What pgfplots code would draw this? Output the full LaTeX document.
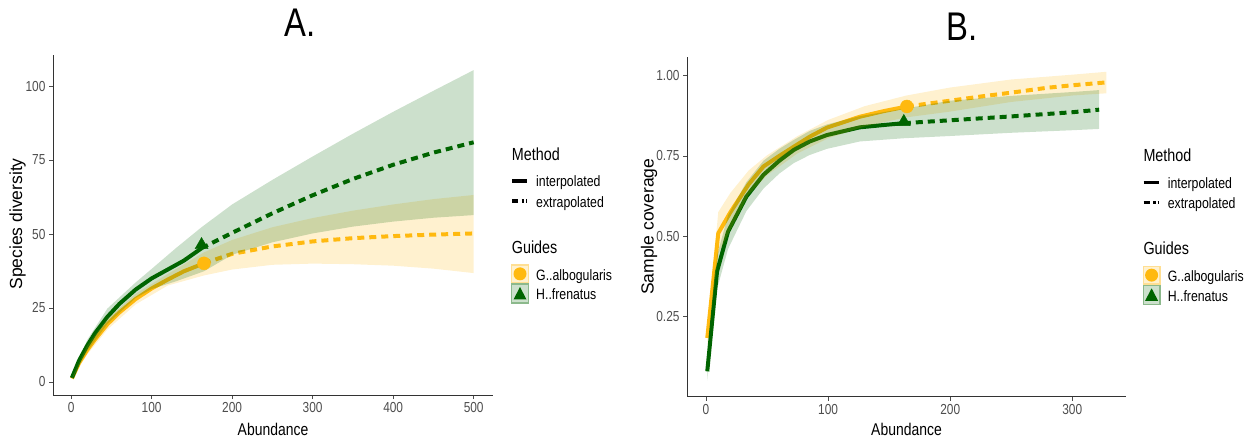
\documentclass[border=0pt]{standalone}
\usepackage{fontspec}
\setmainfont{Liberation Sans}[FakeStretch=0.82]
\newfontfamily\plainfont{Liberation Sans}
\usepackage{pgfplots}
\pgfplotsset{compat=1.18}

\definecolor{gold}{RGB}{255,185,15}
\definecolor{dgreen}{RGB}{0,100,0}
\definecolor{tickgrey}{RGB}{77,77,77}

\pgfplotsset{
  inext/.style={
    scale only axis, axis lines=left,
    axis line style={-, black!80, line width=0.9pt},
    tick align=outside, major tick length=4pt,
    tick style={tickgrey, line width=0.8pt},
    tick label style={font=\fontsize{14.5}{14.5}\selectfont, text=tickgrey},
    /pgf/number format/assume math mode=true,
  },
  band/.style={draw=none, fill=#1, fill opacity=0.2},
  interp/.style={#1, line width=4pt, line join=round},
  extrap/.style={#1, line width=4pt, dash pattern=on 7pt off 5pt},
}

\newcommand\legtext{\fontsize{15}{15}\selectfont}
\newcommand\legtitle{\fontsize{17.5}{17.5}\selectfont}
\newcommand\inextlegend[2]{%
  \begin{scope}[shift={(#1,#2)}]
    \node[anchor=base west, inner sep=0, font=\legtitle] at (0,278.3) {Method};
    \draw[black, line width=3.5pt] (0.3,258) -- (15.3,258);
    \node[anchor=base west, inner sep=0, font=\legtext] at (24.3,252) {interpolated};
    \draw[black, line width=3.5pt, dash pattern=on 6pt off 3.5pt on 2.5pt off 2pt on 1pt off 5pt] (0.3,238) -- (15.3,238);
    \node[anchor=base west, inner sep=0, font=\legtext] at (24.3,231.5) {extrapolated};
    \node[anchor=base west, inner sep=0, font=\legtitle] at (0,185.7) {Guides};
    \draw[gold!45, fill=gold!20, line width=1.2pt] (0,156.3) rectangle (16.6,174);
    \fill[gold] (8.3,165.15) circle (6.5);
    \node[anchor=base west, inner sep=0, font=\legtext] at (24.3,158.3) {G..albogularis};
    \draw[dgreen!45, fill=dgreen!20, line width=1.2pt] (0,136) rectangle (16.6,155);
    \fill[dgreen] (8.3,152) -- (14.8,139.5) -- (1.8,139.5) -- cycle;
    \node[anchor=base west, inner sep=0, font=\legtext] at (24.3,139) {H..frenatus};
  \end{scope}}

\begin{document}
\begin{tikzpicture}[x=1pt, y=1pt]
\useasboundingbox (0,0) rectangle (1249,439);

% ---------------- Panel A: species diversity
\begin{axis}[inext, at={(53pt,44pt)}, anchor=south west,
  width=440pt, height=340pt,
  xmin=-22.5, xmax=524, ymin=-4.4, ymax=110.5,
  xtick={0,100,...,500}, ytick={0,25,50,75,100}]
% reference points
\addplot[only marks, mark=*, mark size=6.5pt, gold, mark options={draw=none}] coordinates {(165,40.1)};
\addplot[only marks, mark=triangle*, mark size=7.5pt, dgreen, mark options={draw=none}] coordinates {(162,46.3)};
% lines
\addplot[interp=gold] coordinates {(1,1.2)(10,6.5)(20,10.8)(30,14.5)(45,19.5)(60,23.5)(80,28)(100,31.6)(120,34.6)(140,37.4)(165,40.1)};
\addplot[extrap=gold] coordinates {(165,40.1)(200,43.3)(250,45.8)(300,47.5)(350,48.6)(400,49.3)(450,49.8)(500,50.2)};
\addplot[interp=dgreen] coordinates {(1,1.4)(10,7.3)(20,12.3)(30,16.6)(45,22.0)(60,26.4)(80,31.2)(100,35.0)(120,38.0)(140,41.0)(162,45.2)};
\addplot[extrap=dgreen] coordinates {(162,45.2)(200,50.4)(250,57.0)(300,63.1)(350,68.6)(400,73.4)(450,77.5)(500,81.0)};
% confidence bands
\addplot[band=gold] coordinates {(1,1.3)(20,12.3)(45,21.3)(80,29.8)(120,36.5)(165,43.8)(200,48.0)(250,52.3)(300,55.4)(350,57.9)(400,60)(450,61.8)(500,63.2)
  (500,36.8)(450,38.3)(400,39.3)(350,39.8)(300,40.0)(250,39.6)(200,38.0)(165,36.0)(120,32.6)(80,26.2)(45,17.7)(20,9.3)(1,1.1)} -- cycle;
\addplot[band=dgreen] coordinates {(1,1.6)(20,14.2)(45,24.8)(80,33.6)(100,38.2)(130,45.2)(162,52.3)(200,60.0)(250,68.3)(300,76.2)(350,83.9)(400,91.3)(450,98.4)(500,105.4)
  (500,56.4)(450,55.5)(400,54.2)(350,52.5)(300,50.2)(250,47.2)(200,43.0)(165,37.4)(130,34.0)(100,31.4)(80,28.4)(45,19.6)(20,10.4)(1,1.2)} -- cycle;
\end{axis}

% ---------------- Panel B: sample coverage
\begin{axis}[inext, at={(687pt,42.3pt)}, anchor=south west,
  width=439pt, height=340pt,
  xmin=-15.6, xmax=344, ymin=0.0, ymax=1.059,
  xtick={0,100,200,300}, ytick={0.25,0.5,0.75,1},
  yticklabel style={/pgf/number format/.cd, fixed, fixed zerofill, precision=2}]
\addplot[only marks, mark=*, mark size=6.5pt, gold, mark options={draw=none}] coordinates {(164.5,0.904)};
\addplot[only marks, mark=triangle*, mark size=7.5pt, dgreen, mark options={draw=none}] coordinates {(162,0.856)};
\addplot[interp=gold] coordinates {(1,0.183)(10,0.509)(20,0.575)(35,0.662)(47,0.717)(60,0.75)(72,0.779)(85,0.81)(99,0.838)(126,0.872)(145,0.889)(164.5,0.904)};
\addplot[extrap=gold] coordinates {(164.5,0.904)(200,0.922)(225,0.935)(250,0.947)(279,0.962)(300,0.970)(328,0.979)};
\addplot[interp=dgreen] coordinates {(1,0.079)(9,0.39)(18,0.514)(33,0.623)(47,0.691)(60,0.735)(72,0.769)(85,0.795)(99,0.815)(126,0.839)(145,0.846)(162,0.852)};
\addplot[extrap=dgreen] coordinates {(162,0.852)(200,0.861)(250,0.873)(300,0.886)(322,0.894)};
\addplot[band=gold] coordinates {(1,0.205)(10,0.575)(20,0.635)(35,0.705)(50,0.752)(75,0.812)(100,0.862)(130,0.905)(164,0.938)(200,0.963)(250,0.988)(300,1.003)(328,1.012)
  (328,0.945)(300,0.938)(250,0.918)(200,0.888)(164,0.870)(130,0.842)(100,0.805)(75,0.758)(50,0.69)(35,0.63)(20,0.52)(10,0.445)(1,0.16)} -- cycle;
\addplot[band=dgreen] coordinates {(1,0.10)(9,0.44)(18,0.565)(33,0.668)(47,0.735)(60,0.772)(72,0.80)(85,0.828)(99,0.848)(126,0.874)(162,0.897)(200,0.922)(250,0.937)(300,0.949)(322,0.955)
  (322,0.834)(300,0.830)(250,0.822)(200,0.812)(162,0.805)(126,0.795)(99,0.772)(85,0.753)(72,0.728)(60,0.695)(47,0.648)(33,0.578)(18,0.46)(9,0.335)(1,0.05)} -- cycle;
\end{axis}

% titles and axis labels
\node[anchor=base, inner sep=0, font=\fontsize{40}{40}\selectfont] at (300,402) {A.};
\node[anchor=base, inner sep=0, font=\fontsize{40}{40}\selectfont] at (962,398.3) {B.};
\node[anchor=base, inner sep=0, font=\fontsize{17}{17}\selectfont] at (273,3.5) {Abundance};
\node[anchor=base, inner sep=0, font=\fontsize{17}{17}\selectfont] at (906.5,3.5) {Abundance};
\node[rotate=90, inner sep=0, font=\plainfont\fontsize{17.5}{17.5}\selectfont] at (17.5,215) {Species diversity};
\node[rotate=90, inner sep=0, font=\plainfont\fontsize{17.5}{17.5}\selectfont] at (649,212.3) {Sample coverage};

% legends
\inextlegend{511.7}{0}
\inextlegend{1143.3}{-1.3}
\end{tikzpicture}
\end{document}
